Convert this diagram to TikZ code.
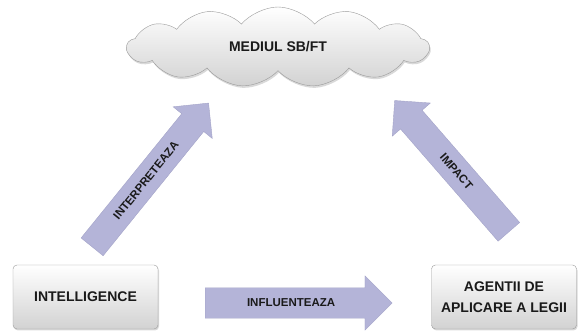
\documentclass[tikz,border=0pt]{standalone}
\usepackage{fontspec}
\setmainfont{Liberation Sans}
\usepackage{xcolor}
\usetikzlibrary{shapes.symbols,shapes.arrows,shadows}
\definecolor{vblack}{HTML}{1a1a1a}
\definecolor{vgray}{HTML}{9a9a9a}
\definecolor{vlight}{HTML}{d2d2d2}
\definecolor{vlav}{HTML}{b4b4d8}
\definecolor{vlavdark}{HTML}{a4a4c8}

\begin{document}
\begin{tikzpicture}[x = 1pt, y = -1pt,
		boxnode/.style = {draw = vgray, rounded corners = 4pt, minimum width = 145pt, minimum height = 64pt, top color = white, bottom color = vlight, drop shadow = {opacity = .3, shadow xshift = 1pt, shadow yshift = -1.5pt}, text = vblack, align = center, font = \fontsize{14}{21}\selectfont\bfseries},
		cloudnode/.style = {cloud, cloud puffs = 13, cloud puff arc = 100, aspect = 3.8, draw = vgray, top color = white, bottom color = vlight, minimum width = 302pt, minimum height = 80pt, drop shadow = {opacity = .3, shadow xshift = 1pt, shadow yshift = -2pt}, text = vblack, font = \fontsize{14}{16}\selectfont\bfseries},
		arrownode/.style = {single arrow, single arrow head extend = 11pt, inner xsep = 3pt, inner ysep = 10pt, draw = vlavdark, fill = vlav, text = vblack, font = \fontsize{11.5}{13}\selectfont\bfseries}
	]
		\useasboundingbox (0,0) rectangle (579,331);
		\node[cloudnode] (mediu) at (278,47) {MEDIUL SB/FT};
		\node[boxnode] (intel) at (85.5,297) {INTELLIGENCE};
		\node[boxnode] (agent) at (504,297) {AGENTII DE\\APLICARE A LEGII};
		\node[arrownode, minimum height = 185pt, anchor = tail, rotate = 51] (interp) at (92,247) {INTERPRETEAZA};
		\node[arrownode, minimum height = 174pt, anchor = tail, rotate = -49, shape border rotate = 180] (impact) at (509,232) {IMPACT};
		\node[arrownode, minimum height = 187pt, anchor = tail, inner ysep = 11pt, single arrow head extend = 12pt] (influ) at (205,303) {INFLUENTEAZA};
	\end{tikzpicture}
\end{document}
